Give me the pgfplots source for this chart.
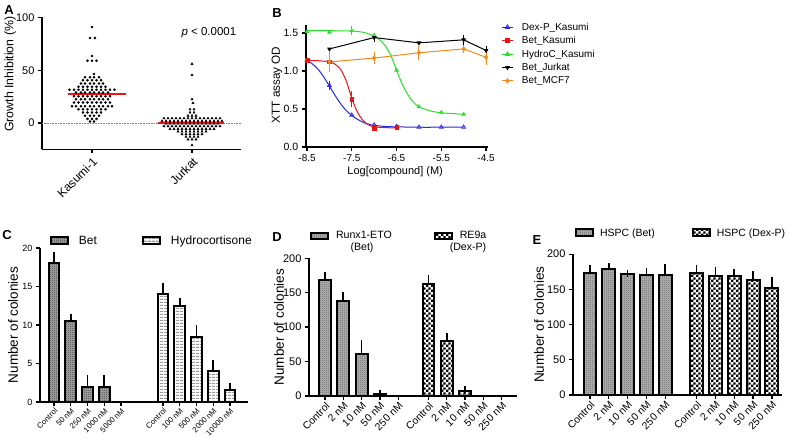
\documentclass[border=0pt]{standalone}
\usepackage{fontspec}
\setmainfont{Liberation Sans}
\usepackage{pgfplots}
\pgfplotsset{compat=1.18}
\usetikzlibrary{patterns}
\definecolor{gpblue}{RGB}{40,40,225}
\definecolor{gpred}{RGB}{235,20,20}
\definecolor{gpgreen}{RGB}{40,225,40}
\definecolor{gporange}{RGB}{240,140,30}
\pgfdeclarepatternformonly{finecheck}{\pgfpointorigin}{\pgfqpoint{2pt}{2pt}}{\pgfqpoint{2pt}{2pt}}{%
  \pgfpathrectangle{\pgfpointorigin}{\pgfqpoint{1pt}{1pt}}%
  \pgfpathrectangle{\pgfqpoint{1pt}{1pt}}{\pgfqpoint{1pt}{1pt}}%
  \pgfusepath{fill}}
\pgfdeclarepatternformonly{bigcheck}{\pgfpointorigin}{\pgfqpoint{5.2pt}{5.2pt}}{\pgfqpoint{5.2pt}{5.2pt}}{%
  \pgfpathrectangle{\pgfpointorigin}{\pgfqpoint{2.6pt}{2.6pt}}%
  \pgfpathrectangle{\pgfqpoint{2.6pt}{2.6pt}}{\pgfqpoint{2.6pt}{2.6pt}}%
  \pgfusepath{fill}}
\pgfdeclarepatternformonly{hstripe}{\pgfpointorigin}{\pgfqpoint{4pt}{3.2pt}}{\pgfqpoint{4pt}{3.2pt}}{%
  \pgfpathrectangle{\pgfpointorigin}{\pgfqpoint{4pt}{1.5pt}}%
  \pgfusepath{fill}}
\pgfplotsset{
  gp/.style={
    scale only axis, clip=false,
    axis x line*=bottom, axis y line*=left,
    axis line style={line width=1.6pt, black, -},
    every tick/.style={line width=1.3pt, black},
    tick align=outside, major tick length=4pt,
    /pgf/number format/assume math mode=true,
    tick label style={font=\fontsize{11}{12}\selectfont},
    every axis y label/.style={rotate=90, anchor=center, font=\fontsize{13.5}{14}\selectfont},
  },
  gpbar/.style={gp, ybar, bar shift=0pt,
    error bars/y dir=plus, error bars/y explicit,
    error bars/error bar style={line width=1.7pt, black, solid},
    error bars/error mark options={line width=1.7pt, black, mark size=3.5pt},
    legend columns=2,
    legend image code/.code={\draw[#1] (0pt,-3.5pt) rectangle (17pt,3.5pt);},
  },
  betC/.style={draw=black, line width=2pt, preaction={fill=gray!70}, pattern=finecheck, pattern color=black!75},
  hydroC/.style={draw=black, line width=2pt, preaction={fill=white}, pattern=hstripe, pattern color=gray!80},
  betD/.style={draw=black, line width=2pt, preaction={fill=gray!60}, pattern=finecheck, pattern color=black!60},
  dexD/.style={draw=black, line width=2pt, preaction={fill=white}, pattern=bigcheck, pattern color=black},
}
\begin{document}
\begin{tikzpicture}
\path[use as bounding box] (0,0) rectangle (791pt,443pt);
\node[font=\fontsize{13}{14}\selectfont\bfseries] at (9pt,433pt) {A};
\node[font=\fontsize{13}{14}\selectfont\bfseries] at (277pt,430pt) {B};
\node[font=\fontsize{13}{14}\selectfont\bfseries] at (7pt,208pt) {C};
\node[font=\fontsize{13}{14}\selectfont\bfseries] at (277pt,206pt) {D};
\node[font=\fontsize{13}{14}\selectfont\bfseries] at (537pt,203pt) {E};
\node[font=\fontsize{10.6}{12}\selectfont] at (362pt,195pt) {(Bet)};
\node[font=\fontsize{10.6}{12}\selectfont] at (468pt,195pt) {(Dex-P)};

% ---------------- A
\begin{axis}[gp, at={(42pt,293.5pt)}, anchor=south west, width=199pt, height=132pt,
  xmin=-0.5, xmax=1.49, ymin=-25, ymax=100,
  xtick={0,1}, xticklabels={Kasumi-1,Jurkat},
  xticklabel style={rotate=45, anchor=north east, font=\fontsize{12}{13}\selectfont, inner sep=2pt},
  ytick={0,50,100},
  ylabel={Growth Inhibition (\%)},
  ylabel style={at={(axis description cs:-0.16,0.57)}, font=\fontsize{12.3}{13}\selectfont},
]
\addplot[gray, densely dotted, line width=0.6pt] coordinates {(-0.5,0) (1.49,0)};
\addplot[only marks, mark=*, mark size=1.1pt, black] coordinates {
(0,91)
(-0.02,80.5) (0.03,80.5)
(0,63.5)
(-0.045,59) (0,59) (0.045,59)
(0.02,46.5)
(-0.07,43.5) (-0.02,43.5) (0.02,43.5) (0.07,43.5)
(-0.09,40.5) (-0.045,40.5) (0,40.5) (0.045,40.5) (0.09,40.5)
(-0.11,37.5) (-0.07,37.5) (-0.02,37.5) (0.02,37.5) (0.07,37.5) (0.11,37.5)
(-0.135,34.5) (-0.09,34.5) (-0.045,34.5) (0,34.5) (0.045,34.5) (0.09,34.5) (0.135,34.5)
(-0.225,31.5) (-0.18,31.5) (-0.135,31.5) (-0.09,31.5) (-0.045,31.5) (0,31.5) (0.045,31.5) (0.09,31.5) (0.135,31.5) (0.18,31.5) (0.225,31.5)
(-0.16,29) (-0.11,29) (-0.07,29) (-0.02,29) (0.02,29) (0.07,29) (0.11,29) (0.16,29)
(-0.18,25.5) (-0.135,25.5) (-0.09,25.5) (-0.045,25.5) (0,25.5) (0.045,25.5) (0.09,25.5) (0.135,25.5) (0.18,25.5)
(-0.16,22.5) (-0.11,22.5) (-0.07,22.5) (-0.02,22.5) (0.02,22.5) (0.07,22.5) (0.11,22.5) (0.16,22.5)
(-0.18,19.5) (-0.135,19.5) (-0.09,19.5) (-0.045,19.5) (0,19.5) (0.045,19.5) (0.09,19.5) (0.135,19.5) (0.18,19.5)
(-0.2,16) (-0.16,16) (-0.11,16) (-0.07,16) (-0.02,16) (0.02,16) (0.07,16) (0.11,16) (0.16,16) (0.2,16)
(-0.135,13) (-0.09,13) (-0.045,13) (0,13) (0.045,13) (0.09,13) (0.135,13)
(-0.09,10) (-0.045,10) (0,10) (0.045,10) (0.09,10)
(-0.07,7) (-0.02,7) (0.02,7) (0.07,7)
(-0.045,4) (0,4) (0.045,4)
(-0.02,1.5) (0.02,1.5)
};
\addplot[only marks, mark=triangle*, mark size=1.3pt, black] coordinates {
(1,56) (1,45.5) (1,22.5) (1.01,19)
(0.98,13) (1.02,13)
(0.98,10) (1.02,10)
(0.96,7) (1,7) (1.04,7)
(0.72,4.5) (0.76,4.5) (0.80,4.5) (0.84,4.5) (0.88,4.5) (0.92,4.5) (0.96,4.5) (1.00,4.5) (1.04,4.5) (1.08,4.5) (1.12,4.5) (1.16,4.5) (1.20,4.5) (1.24,4.5) (1.28,4.5)
(0.70,2) (0.74,2) (0.78,2) (0.82,2) (0.86,2) (0.90,2) (0.94,2) (0.98,2) (1.02,2) (1.06,2) (1.10,2) (1.14,2) (1.18,2) (1.22,2) (1.26,2) (1.30,2)
(0.74,-0.5) (0.78,-0.5) (0.82,-0.5) (0.86,-0.5) (0.90,-0.5) (0.94,-0.5) (0.98,-0.5) (1.02,-0.5) (1.06,-0.5) (1.10,-0.5) (1.14,-0.5) (1.18,-0.5) (1.22,-0.5) (1.26,-0.5)
(0.72,-3) (0.76,-3) (0.80,-3) (0.84,-3) (0.88,-3) (0.92,-3) (0.96,-3) (1.00,-3) (1.04,-3) (1.08,-3) (1.12,-3) (1.16,-3) (1.20,-3) (1.24,-3) (1.28,-3)
(0.78,-5.5) (0.82,-5.5) (0.86,-5.5) (0.90,-5.5) (0.94,-5.5) (0.98,-5.5) (1.02,-5.5) (1.06,-5.5) (1.10,-5.5) (1.14,-5.5) (1.18,-5.5) (1.22,-5.5)
(0.86,-8) (0.90,-8) (0.94,-8) (0.98,-8) (1.02,-8) (1.06,-8) (1.10,-8) (1.14,-8)
(0.90,-10.5) (0.94,-10.5) (0.98,-10.5) (1.02,-10.5) (1.06,-10.5) (1.10,-10.5)
(0.94,-13) (0.98,-13) (1.02,-13) (1.06,-13)
(0.96,-15.5) (1.00,-15.5) (1.04,-15.5)
(1,-21)
};
\addplot[gpred, line width=1.8pt] coordinates {(-0.24,27.5) (0.34,27.5)};
\addplot[gpred, line width=1.8pt] coordinates {(0.66,0) (1.32,0)};
\node[anchor=west, font=\fontsize{11.5}{12}\selectfont] at (axis cs:0.86,86) {\textit{p} < 0.0001};
\end{axis}

% ---------------- B
\begin{axis}[gp, at={(305.7pt,296pt)}, anchor=south west, width=182.6pt, height=121.6pt,
  xmin=-8.53, xmax=-4.45, ymin=0, ymax=1.6,
  xtick={-8.5,-7.5,-6.5,-5.5,-4.5}, xticklabels={-8.5,-7.5,-6.5,-5.5,-4.5},
  ytick={0,0.5,1,1.5}, yticklabels={0.0,0.5,1.0,1.5},
  xticklabel style={font=\fontsize{10}{11}\selectfont},
  yticklabel style={font=\fontsize{10.5}{11}\selectfont},
  xlabel={Log[compound] (M)},
  every axis x label/.style={at={(axis description cs:0.49,-0.205)}, anchor=center, font=\fontsize{11}{12}\selectfont},
  ylabel={XTT assay OD},
  ylabel style={at={(axis description cs:-0.157,0.51)}, font=\fontsize{11.7}{12}\selectfont},
  legend style={draw=none, fill=none, inner sep=0pt, outer sep=0pt, at={(1.072,1.0247)}, anchor=north west,
    font=\fontsize{10}{11}\selectfont, row sep=3.7pt, nodes={inner sep=0.5pt},
    /tikz/every odd column/.append style={column sep=8pt}},
  legend cell align=left,
  legend image code/.code={\draw[mark repeat=2,mark phase=2,#1] plot coordinates {(0pt,0pt) (5.5pt,0pt) (11pt,0pt)};},
]
% fitted curves
\addplot[gpblue, line width=1pt, smooth, forget plot] coordinates {(-8.5,1.14) (-8.375,1.09) (-8.25,1.02) (-8.125,0.92) (-8,0.80) (-7.875,0.68) (-7.75,0.57) (-7.625,0.48) (-7.5,0.415) (-7.375,0.365) (-7.25,0.325) (-7.125,0.30) (-7,0.285) (-6.75,0.27) (-6.5,0.265) (-6,0.26) (-5.5,0.26) (-5,0.26)};
\addplot[gpred, line width=1pt, smooth, forget plot] coordinates {(-8.5,1.14) (-8.25,1.135) (-8,1.12) (-7.875,1.09) (-7.75,1.02) (-7.625,0.87) (-7.5,0.64) (-7.375,0.46) (-7.25,0.35) (-7.125,0.29) (-7,0.265) (-6.75,0.255) (-6.5,0.25)};
\addplot[gpgreen, line width=1pt, smooth, forget plot] coordinates {(-8.5,1.53) (-8,1.53) (-7.5,1.525) (-7.25,1.51) (-7,1.46) (-6.875,1.41) (-6.75,1.33) (-6.625,1.20) (-6.5,1.01) (-6.375,0.83) (-6.25,0.69) (-6.125,0.59) (-6,0.53) (-5.75,0.475) (-5.5,0.45) (-5.25,0.44) (-5,0.43)};
% data points
\addplot[gpblue, only marks, mark=triangle, mark size=2.2pt, line width=0.8pt, forget plot,
  error bars/.cd, y dir=both, y explicit, error bar style={line width=0.9pt}, error mark options={mark size=2.5pt, line width=0.9pt}]
  coordinates {(-8.5,1.14) (-8,0.81) +- (0,0.03) (-7.5,0.42) (-7,0.29) (-6.5,0.27) (-6,0.26) (-5.5,0.26) (-5,0.26)};
\addplot[gpred, only marks, mark=square*, mark size=1.8pt, forget plot,
  error bars/.cd, y dir=both, y explicit, error bar style={line width=0.9pt}, error mark options={mark size=2.5pt, line width=0.9pt}]
  coordinates {(-8.5,1.14) (-8,1.12) (-7.5,0.63) +- (0,0.07) (-7,0.25) (-6.5,0.26)};
\addplot[gpgreen, only marks, mark=triangle*, mark size=2.2pt, forget plot,
  error bars/.cd, y dir=both, y explicit, error bar style={line width=0.9pt}, error mark options={mark size=2.5pt, line width=0.9pt}]
  coordinates {(-8.5,1.52) (-8,1.51) (-7.5,1.53) +- (0,0.03) (-7,1.47) (-6.5,1.01) (-6,0.53) (-5.5,0.455) (-5,0.43)};
\addplot[black, line width=1pt, mark=triangle*, mark options={rotate=180}, mark size=1.8pt, forget plot,
  error bars/.cd, y dir=both, y explicit, error bar style={line width=0.9pt}, error mark options={mark size=2.5pt, line width=0.9pt}]
  coordinates {(-8,1.29) (-7,1.44) +- (0,0.02) (-6,1.37) (-5,1.41) +- (0,0.03) (-4.5,1.27) +- (0,0.02)};
\addplot[gporange, line width=1pt, mark=diamond*, mark size=2pt, forget plot,
  error bars/.cd, y dir=both, y explicit, error bar style={line width=0.9pt}, error mark options={mark size=2.5pt, line width=0.9pt}]
  coordinates {(-8,1.12) +- (0,0.10) (-7,1.17) +- (0,0.05) (-6,1.24) +- (0,0.06) (-5,1.29) +- (0,0.02) (-4.5,1.18) +- (0,0.07)};
\addlegendimage{gpblue, line width=1pt, mark=triangle, mark size=2.2pt}
\addlegendentry{Dex-P\_Kasumi}
\addlegendimage{gpred, line width=1pt, mark=square*, mark size=1.8pt}
\addlegendentry{Bet\_Kasumi}
\addlegendimage{gpgreen, line width=1pt, mark=triangle*, mark size=2.2pt}
\addlegendentry{HydroC\_Kasumi}
\addlegendimage{black, line width=1pt, mark=triangle*, mark options={rotate=180}, mark size=1.8pt}
\addlegendentry{Bet\_Jurkat}
\addlegendimage{gporange, line width=1pt, mark=diamond*, mark size=2pt}
\addlegendentry{Bet\_MCF7}
\end{axis}

% ---------------- C
\begin{axis}[gpbar, at={(40pt,41pt)}, anchor=south west, width=208pt, height=154pt,
  xmin=-0.836, xmax=11.58, ymin=0, ymax=20, bar width=0.64,
  xtick={0,1,2,3,4,6.5,7.5,8.5,9.5,10.5},
  xticklabels={Control,50 nM,250 nM,1000 nM,5000 nM,Control,100 nM,500 nM,2000 nM,10000 nM},
  xticklabel style={rotate=45, anchor=north east, font=\fontsize{7.8}{9}\selectfont, inner sep=1pt},
  ytick={0,5,10,15,20}, yticklabel style={font=\fontsize{9}{10}\selectfont},
  ylabel={Number of colonies}, ylabel style={at={(axis description cs:-0.13,0.5)}},
  legend style={draw=none, fill=none, inner sep=0pt, outer sep=0pt, at={(0.048,1.0455)}, anchor=west,
    font=\fontsize{12}{13}\selectfont, nodes={inner sep=0pt},
    /tikz/every odd column/.append style={column sep=10pt},
    /tikz/every even column/.append style={column sep=45pt}},
]
\addplot[betC] coordinates {(0,18) +- (0,1) (1,10.5) +- (0,0.5) (2,2) +- (0,1) (3,2) +- (0,1)};
\addlegendentry{Bet}
\addplot[hydroC] coordinates {(6.5,14) +- (0,1) (7.5,12.5) +- (0,0.5) (8.5,8.5) +- (0,1) (9.5,4) +- (0,1) (10.5,1.5) +- (0,0.5)};
\addlegendentry{Hydrocortisone}
\end{axis}

% ---------------- D
\begin{axis}[gpbar, at={(309pt,47pt)}, anchor=south west, width=208pt, height=137.7pt,
  xmin=-0.87, xmax=10.47, ymin=0, ymax=200, bar width=0.64,
  xtick={0,1,2,3,4,5.64,6.64,7.64,8.64,9.64},
  xticklabels={Control,2 nM,10 nM,50 nM,250 nM,Control,2 nM,10 nM,50 nM,250 nM},
  xticklabel style={rotate=45, anchor=north east, font=\fontsize{10.3}{11}\selectfont, inner sep=1pt},
  ytick={0,50,100,150,200},
  ylabel={Number of colonies}, ylabel style={at={(axis description cs:-0.144,0.5)}},
  legend style={draw=none, fill=none, inner sep=0pt, outer sep=0pt, at={(0.005,1.162)}, anchor=west,
    font=\fontsize{10.6}{12}\selectfont, nodes={inner sep=0pt},
    /tikz/every odd column/.append style={column sep=7pt},
    /tikz/every even column/.append style={column sep=42pt}},
  legend image code/.code={\draw[#1] (0pt,-3pt) rectangle (17pt,3pt);},
]
\addplot[betD] coordinates {(0,168.5) +- (0,6.5) (1,138.5) +- (0,8) (2,61) +- (0,15) (3,2.5) +- (0,1)};
\addlegendentry{Runx1-ETO}
\addplot[dexD] coordinates {(5.64,162) +- (0,8.5) (6.64,80) +- (0,6.5) (7.64,7.5) +- (0,1.5)};
\addlegendentry{RE9a}
\end{axis}

% ---------------- E
\begin{axis}[gpbar, at={(573pt,48pt)}, anchor=south west, width=209pt, height=140.8pt,
  xmin=-0.904, xmax=10.21, ymin=0, ymax=200, bar width=0.69,
  xtick={0,1,2,3,4,5.67,6.67,7.67,8.67,9.67},
  xticklabels={Control,2 nM,10 nM,50 nM,250 nM,Control,2 nM,10 nM,50 nM,250 nM},
  xticklabel style={rotate=45, anchor=north east, font=\fontsize{10.3}{11}\selectfont, inner sep=1pt},
  ytick={0,50,100,150,200},
  ylabel={Number of colonies}, ylabel style={at={(axis description cs:-0.163,0.5)}},
  legend style={draw=none, fill=none, inner sep=0pt, outer sep=0pt, at={(0.0096,1.1506)}, anchor=west,
    font=\fontsize{10.5}{12}\selectfont, nodes={inner sep=0pt},
    /tikz/every odd column/.append style={column sep=6pt},
    /tikz/every even column/.append style={column sep=37pt}},
]
\addplot[betD] coordinates {(0,173) +- (0,7) (1,178.5) +- (0,3.5) (2,172) +- (0,1.2) (3,171) +- (0,5) (4,170) +- (0,11)};
\addlegendentry{HSPC (Bet)}
\addplot[dexD] coordinates {(5.67,173) +- (0,7) (6.67,169.5) +- (0,8) (7.67,169.5) +- (0,4) (8.67,164) +- (0,7.5) (9.67,152.5) +- (0,10)};
\addlegendentry{HSPC (Dex-P)}
\end{axis}
\end{tikzpicture}
\end{document}
